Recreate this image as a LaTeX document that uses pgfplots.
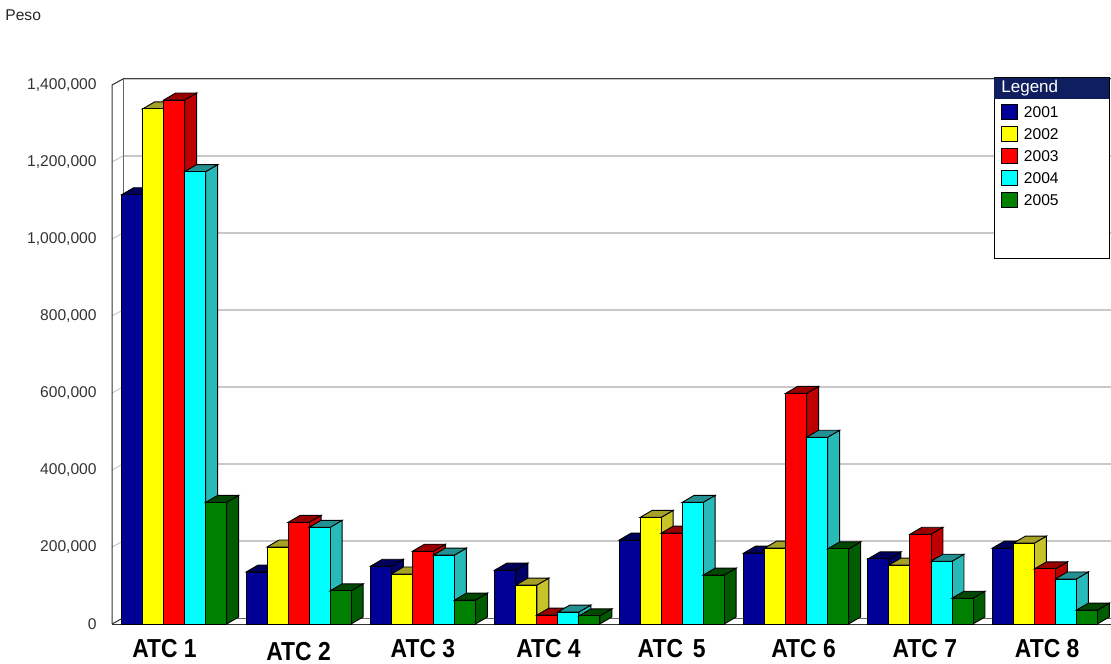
\documentclass[border=0pt]{standalone}
\usepackage{graphicx}
\usepackage{fontspec}
\setmainfont{Liberation Sans}
\usepackage{pgfplots}
\usepackage{pgfplotstable}
\pgfplotsset{compat=1.18}
\usetikzlibrary{backgrounds}

\definecolor{cBlue}{RGB}{0,0,150}
\definecolor{cBlueS}{RGB}{0,0,105}
\definecolor{cBlueT}{RGB}{0,0,90}
\definecolor{cYel}{RGB}{255,255,0}
\definecolor{cYelS}{RGB}{200,195,40}
\definecolor{cYelT}{RGB}{165,160,40}
\definecolor{cRed}{RGB}{255,0,0}
\definecolor{cRedS}{RGB}{190,0,0}
\definecolor{cRedT}{RGB}{155,0,0}
\definecolor{cCya}{RGB}{0,255,255}
\definecolor{cCyaS}{RGB}{40,185,185}
\definecolor{cCyaT}{RGB}{35,145,145}
\definecolor{cGrn}{RGB}{0,128,0}
\definecolor{cGrnS}{RGB}{0,92,0}
\definecolor{cGrnT}{RGB}{0,72,0}
\definecolor{hdr}{RGB}{14,30,95}
\definecolor{gridc}{RGB}{200,200,200}

% a whole 3D bar (front, side and top faces), drawn as a plot mark at the data point
\newcommand\declbar[5]{%
\pgfdeclareplotmark{#1}{%
  \pgfsetlinewidth{0.45pt}%
  \pgfsetstrokecolor{black}%
  \pgfsetfillcolor{#3}%
  \pgfpathmoveto{\pgfpoint{#2pt+5.25pt}{0pt}}%
  \pgfpathlineto{\pgfpoint{#2pt+11.25pt}{3.5pt}}%
  \pgfpathlineto{\pgfpoint{#2pt+11.25pt}{3.5pt-\barh pt}}%
  \pgfpathlineto{\pgfpoint{#2pt+5.25pt}{0pt-\barh pt}}%
  \pgfpathclose
  \pgfusepath{fill,stroke}%
  \pgfsetfillcolor{#4}%
  \pgfpathmoveto{\pgfpoint{#2pt-5.25pt}{0pt}}%
  \pgfpathlineto{\pgfpoint{#2pt+0.75pt}{3.5pt}}%
  \pgfpathlineto{\pgfpoint{#2pt+11.25pt}{3.5pt}}%
  \pgfpathlineto{\pgfpoint{#2pt+5.25pt}{0pt}}%
  \pgfpathclose
  \pgfusepath{fill,stroke}%
  \pgfsetfillcolor{#5}%
  \pgfpathmoveto{\pgfpoint{#2pt-5.25pt}{0pt}}%
  \pgfpathlineto{\pgfpoint{#2pt+5.25pt}{0pt}}%
  \pgfpathlineto{\pgfpoint{#2pt+5.25pt}{0pt-\barh pt}}%
  \pgfpathlineto{\pgfpoint{#2pt-5.25pt}{0pt-\barh pt}}%
  \pgfpathclose
  \pgfusepath{fill,stroke}%
}}
\declbar{dA}{-21}{cBlueS}{cBlueT}{cBlue}
\declbar{dB}{-10.5}{cYelS}{cYelT}{cYel}
\declbar{dC}{0}{cRedS}{cRedT}{cRed}
\declbar{dD}{10.5}{cCyaS}{cCyaT}{cCya}
\declbar{dE}{21}{cGrnS}{cGrnT}{cGrn}

\newcommand\atc[1]{\scalebox{0.88}[1]{#1}}

% values in thousands
\pgfplotstableread{
x a b c d e
0 1115 1338 1361 1175 316
1 135 200 264 251 86
2 150 130 189 179 62
3 140 101 23 31 21
4 218 277 236 316 127
5 184 197 599 485 195
6 169 153 233 163 67
7 197 210 143 117 36
}\datatable

\pgfplotsset{
  mybar/.style={ybar, bar width=10.5pt, draw=black, line width=0.45pt,
    legend image code/.code={\draw[##1,draw=black,line width=0.45pt] (0pt,-1pt) rectangle (8pt,6.5pt);}},
  mydepth/.style={scatter, only marks, forget plot, mark=#1,
    scatter/use mapped color={draw=black},
    visualization depends on={rawy*0.1925 \as \barh}},
}

\begin{document}
\begin{tikzpicture}[x=1pt,y=1pt]
\begin{axis}[
  name=ax,
  scale only axis, width=497.5pt, height=269.5pt,
  xmin=-0.5, xmax=7.5, ymin=0, ymax=1400,
  clip=false,
  axis line style={draw=none}, major tick length=0pt, tick style={draw=none},
  xtick={0,...,7},
  xticklabels={\atc{\kern-11pt ATC 1},\atc{\raisebox{-1.5pt}{ATC 2}},\atc{ATC 3},\atc{\kern1.3pt ATC 4},\atc{ATC\ \kern2pt 5},\atc{\kern8.5pt ATC 6},\atc{\kern5pt ATC 7},\atc{\kern2.7pt ATC 8}},
  xticklabel style={font=\bfseries\fontsize{13}{14}\selectfont, inner sep=0pt, text height=9.5pt, text depth=0pt, yshift=-7pt},
  ytick={0,200,...,1400},
  yticklabels={0,{200,000},{400,000},{600,000},{800,000},{1,000,000},{1,200,000},{1,400,000}},
  yticklabel style={font=\fontsize{7.8}{9}\selectfont, text=black!80, inner sep=0pt, xshift=-7.5pt},
  legend style={at={(0.8935,0.9657)}, anchor=north west, draw=none, fill=none,
    inner sep=0pt, outer sep=0pt, row sep=0pt, font=\fontsize{7.8}{9}\selectfont,
    nodes={inner sep=0pt, text height=7pt, text depth=4pt, anchor=base west},
    /tikz/every odd column/.append style={column sep=3pt}},
  legend cell align=left,
]
\coordinate (O) at (rel axis cs:0,0);
\addplot[mybar, bar shift=-21pt, fill=cBlue] table[x=x,y=a]{\datatable};
\addlegendentry{2001}
\addplot[mybar, bar shift=-10.5pt, fill=cYel] table[x=x,y=b]{\datatable};
\addlegendentry{2002}
\addplot[mybar, bar shift=0pt, fill=cRed] table[x=x,y=c]{\datatable};
\addlegendentry{2003}
\addplot[mybar, bar shift=10.5pt, fill=cCya] table[x=x,y=d]{\datatable};
\addlegendentry{2004}
\addplot[mybar, bar shift=21pt, fill=cGrn] table[x=x,y=e]{\datatable};
\addlegendentry{2005}
\addplot[mydepth=dA] table[x=x,y=a]{\datatable};
\addplot[mydepth=dB] table[x=x,y=b]{\datatable};
\addplot[mydepth=dC] table[x=x,y=c]{\datatable};
\addplot[mydepth=dD] table[x=x,y=d]{\datatable};
\addplot[mydepth=dE] table[x=x,y=e]{\datatable};
\end{axis}
\begin{scope}[on background layer]
\begin{scope}[shift={(O)}, shift={(-56,-19.5)}]
% back wall grid lines and their traces on the left wall
\foreach \v in {1,...,7} {
  \draw[gridc, line width=0.6pt] (61.5,{22.5+\v*38.5}) -- (560,{22.5+\v*38.5});
  \draw[gridc, line width=0.5pt] (56,{19.5+\v*38.5}) -- (61.5,{22.5+\v*38.5});
}
% frame: back wall, left wall, floor
\draw[black!75, line width=0.5pt] (61.5,292) -- (560,292);
\draw[black!60, line width=0.4pt] (61.5,292) -- (61.5,22.5) -- (560,22.5);
\draw[black!80, line width=0.5pt] (56,19.5) -- (56,289) -- (61.5,292);
\draw[black!80, line width=0.5pt] (56,19.5) -- (61.5,22.5);
\draw[black!80, line width=0.5pt] (56,19.5) -- (560,19.5);
% legend box
\draw[fill=white, draw=black, line width=0.5pt] (497,202) rectangle (554.5,292.5);
\fill[hdr] (497,282) rectangle (554.5,292.5);
\node[anchor=west, text=white, inner sep=0pt, font=\fontsize{8.5}{10}\selectfont] at (500.5,287.3) {Legend};
% title
\node[anchor=west, inner sep=0pt, text=black!85, font=\fontsize{7.8}{9}\selectfont] at (2.5,324) {Peso};
\end{scope}
\end{scope}
\pgfresetboundingbox
\path[use as bounding box] ([shift={(-56,-19.5)}]O) rectangle ([shift={(499.5,312)}]O);
\end{tikzpicture}
\end{document}
